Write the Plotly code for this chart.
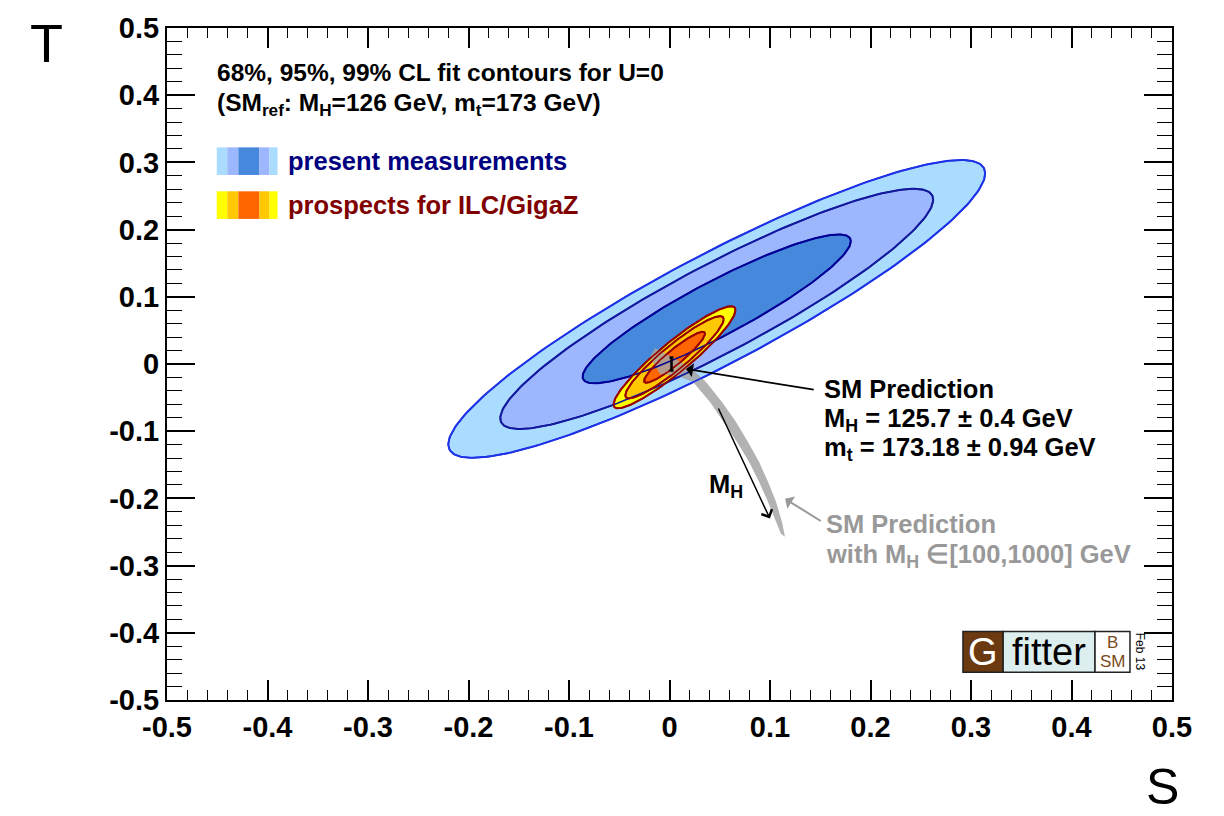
import numpy as np
import plotly.graph_objects as go

# ---------------- data ----------------
# confidence levels and corresponding delta-chi2 for 2 d.o.f.
cl_names = ["99%", "95%", "68%"]
cl_dchi2 = [9.21, 5.99, 2.30]

# present measurements fit result (S, T) for U=0
present_center = [0.047, 0.082]
present_sigma = [0.088, 0.073]
present_rho = 0.91

# prospects for ILC/GigaZ
ilc_center = [0.005, 0.010]
ilc_sigma = [0.020, 0.025]
ilc_rho = 0.925

# SM prediction point (M_H = 125.7, m_t = 173.18)
sm_S = [0.002]
sm_T = [0.000]
sm_T_err = [0.0095]

# SM prediction band for M_H in [100, 1000] GeV (outline of the grey band)
band_S = [-0.0144, 0.0025, 0.0204, 0.0363, 0.0522, 0.0662, 0.0781, 0.0891, 0.0980,
          0.1060, 0.1119, 0.1149,
          0.1109, 0.1060, 0.0980, 0.0891, 0.0791, 0.0672, 0.0542, 0.0403, 0.0234,
          0.0085, -0.0095, -0.0194]
band_T = [0.0238, 0.0104, -0.0045, -0.0267, -0.0565, -0.0862, -0.1159, -0.1456, -0.1753,
          -0.2051, -0.2348, -0.2571,
          -0.2526, -0.2348, -0.2051, -0.1753, -0.1456, -0.1159, -0.0862, -0.0565, -0.0267,
          -0.0178, -0.0149, 0.0104]

# tick labels
tick_vals = [-0.5, -0.4, -0.3, -0.2, -0.1, 0.0, 0.1, 0.2, 0.3, 0.4, 0.5]
tick_text = ["-0.5", "-0.4", "-0.3", "-0.2", "-0.1", "0", "0.1", "0.2", "0.3", "0.4", "0.5"]

# ---------------- styles ----------------
FONT = "Liberation Sans, Arial, Helvetica, sans-serif"
present_fill = ["#aadcff", "#9db7ff", "#4688dc"]
present_line = ["#1e32e6", "#14199e", "#000096"]
ilc_fill = ["#ffff00", "#ffc800", "#ff6600"]
ilc_line = ["#990000", "#990000", "#990000"]


def contour(center, sigma, rho, d2, n=240):
    t = np.linspace(0, 2 * np.pi, n)
    k = np.sqrt(d2)
    s = center[0] + k * sigma[0] * np.cos(t)
    tt = center[1] + k * sigma[1] * (rho * np.cos(t) + np.sqrt(1 - rho ** 2) * np.sin(t))
    return s, tt


fig = go.Figure()

# present measurement fills
for d2, fc, lc in zip(cl_dchi2, present_fill, present_line):
    s, t = contour(present_center, present_sigma, present_rho, d2)
    fig.add_trace(go.Scatter(x=s, y=t, mode="lines", fill="toself", fillcolor=fc,
                             line=dict(color=lc, width=2), hoverinfo="skip"))

# ILC fills
for d2, fc, lc in zip(cl_dchi2, ilc_fill, ilc_line):
    s, t = contour(ilc_center, ilc_sigma, ilc_rho, d2)
    fig.add_trace(go.Scatter(x=s, y=t, mode="lines", fill="toself", fillcolor=fc,
                             line=dict(color=lc, width=2), hoverinfo="skip"))

# grey SM band
fig.add_trace(go.Scatter(x=band_S + band_S[:1], y=band_T + band_T[:1], mode="lines",
                         fill="toself", fillcolor="rgba(165,165,165,0.85)",
                         line=dict(color="rgba(165,165,165,0.0)", width=0),
                         hoverinfo="skip"))

# present measurement lines on top
for d2, lc in zip(cl_dchi2, present_line):
    s, t = contour(present_center, present_sigma, present_rho, d2)
    fig.add_trace(go.Scatter(x=s, y=t, mode="lines", line=dict(color=lc, width=1.6),
                             hoverinfo="skip"))

# ILC lines on top
for d2, lc in zip(cl_dchi2, ilc_line):
    s, t = contour(ilc_center, ilc_sigma, ilc_rho, d2)
    fig.add_trace(go.Scatter(x=s, y=t, mode="lines", line=dict(color=lc, width=1.6),
                             hoverinfo="skip"))

# SM point
fig.add_trace(go.Scatter(x=sm_S, y=sm_T, mode="markers",
                         marker=dict(size=1, color="black"),
                         error_y=dict(type="data", array=sm_T_err, color="black",
                                      thickness=2.5, width=2),
                         hoverinfo="skip"))

ann = []


def txt(x, y, text, size=25, color="black", bold=True, xanchor="left", **kw):
    f = dict(family=FONT, size=size, color=color)
    if bold:
        f["weight"] = "bold"
    d = dict(x=x, y=y, xref="x", yref="y", text=text, showarrow=False,
             xanchor=xanchor, yanchor="middle", font=f)
    d.update(kw)
    ann.append(d)


txt(-0.452, 0.434, "68%, 95%, 99% CL fit contours for U=0", size=24.5)
txt(-0.452, 0.386, "(SM<sub>ref</sub>: M<sub>H</sub>=126 GeV, m<sub>t</sub>=173 GeV)", size=24.5)
txt(-0.382, 0.302, "present measurements", size=25.5, color="#000080")
txt(-0.382, 0.236, "prospects for ILC/GigaZ", size=25.5, color="#800000")

txt(0.152, -0.037, "SM Prediction", size=25.5)
txt(0.152, -0.083, "M<sub>H</sub> = 125.7 ± 0.4 GeV", size=25.5)
txt(0.152, -0.127, "m<sub>t</sub> = 173.18 ± 0.94 GeV", size=25.5)

txt(0.154, -0.238, "SM Prediction", size=25.5, color="#999999")
txt(0.154, -0.286, "with M<sub>H</sub> ∈[100,1000] GeV", size=25.5, color="#999999")

txt(0.056, -0.181, "M<sub>H</sub>", size=25.5, xanchor="center")

# arrows
ann.append(dict(x=0.0164, y=-0.0074, ax=0.145, ay=-0.0386, xref="x", yref="y",
                axref="x", ayref="y", text="", showarrow=True, arrowhead=1,
                arrowsize=1.3, arrowwidth=1.8, arrowcolor="black", standoff=0))
ann.append(dict(x=0.0999, y=-0.230, ax=0.048, ay=-0.064, xref="x", yref="y",
                axref="x", ayref="y", text="", showarrow=True, arrowhead=4,
                arrowsize=1.5, arrowwidth=1.5, arrowcolor="black", standoff=0))
ann.append(dict(x=0.115, y=-0.2006, ax=0.152, ay=-0.235, xref="x", yref="y",
                axref="x", ayref="y", text="", showarrow=True, arrowhead=1,
                arrowsize=1.2, arrowwidth=2, arrowcolor="#999999", standoff=0))

# axis titles
ann.append(dict(x=-0.12, y=0.978, xref="paper", yref="paper", text="T", showarrow=False,
                font=dict(family=FONT, size=54, color="black"), xanchor="center", yanchor="middle"))
ann.append(dict(x=0.991, y=-0.13, xref="paper", yref="paper", text="S", showarrow=False,
                font=dict(family=FONT, size=50, color="black"), xanchor="center", yanchor="middle"))

# Gfitter logo
txt(0.312, -0.428, "G", size=38, color="white", bold=False, xanchor="center")
txt(0.3776, -0.428, "fitter", size=38, color="black", bold=False, xanchor="center")
txt(0.441, -0.414, "B", size=17, color="#7a4a1a", bold=False, xanchor="center")
txt(0.441, -0.443, "SM", size=17, color="#7a4a1a", bold=False, xanchor="center")
ann.append(dict(x=0.469, y=-0.428, xref="x", yref="y", text="Feb 13", showarrow=False,
                textangle=90, font=dict(family=FONT, size=12, color="black"),
                xanchor="center", yanchor="middle"))

shapes = []
# legend swatches
pres_swatch = [(-0.4505, -0.440, present_fill[0]), (-0.440, -0.429, present_fill[1]),
               (-0.429, -0.408, present_fill[2]), (-0.408, -0.398, present_fill[1]),
               (-0.398, -0.390, present_fill[0])]
ilc_swatch = [(-0.4505, -0.440, ilc_fill[0]), (-0.440, -0.429, ilc_fill[1]),
              (-0.429, -0.408, ilc_fill[2]), (-0.408, -0.398, ilc_fill[1]),
              (-0.398, -0.390, ilc_fill[0])]
for x0, x1, c in pres_swatch:
    shapes.append(dict(type="rect", xref="x", yref="y", x0=x0, x1=x1, y0=0.2813, y1=0.3224,
                       fillcolor=c, line=dict(width=0)))
for x0, x1, c in ilc_swatch:
    shapes.append(dict(type="rect", xref="x", yref="y", x0=x0, x1=x1, y0=0.2159, y1=0.257,
                       fillcolor=c, line=dict(width=0)))
# logo boxes
shapes.append(dict(type="rect", xref="x", yref="y", x0=0.292, x1=0.332, y0=-0.4587, y1=-0.398,
                   fillcolor="#6b3a10", line=dict(color="#222222", width=1.5)))
shapes.append(dict(type="rect", xref="x", yref="y", x0=0.332, x1=0.4234, y0=-0.4587, y1=-0.398,
                   fillcolor="#ddeeee", line=dict(color="#222222", width=1.5)))
shapes.append(dict(type="rect", xref="x", yref="y", x0=0.4234, x1=0.4582, y0=-0.4587, y1=-0.398,
                   fillcolor="white", line=dict(color="#222222", width=1.5)))

axis_common = dict(
    range=[-0.5, 0.5], tickmode="array", tickvals=tick_vals, ticktext=tick_text,
    ticks="inside", tickwidth=1.6, tickcolor="black",
    showline=True, linewidth=2, linecolor="black", mirror="allticks",
    showgrid=False, zeroline=False,
    tickfont=dict(family=FONT, size=29, color="black", weight="bold"),
)

fig.update_layout(
    width=1224, height=816,
    margin=dict(l=167, r=52, t=24, b=116),
    plot_bgcolor="white", paper_bgcolor="white",
    showlegend=False,
    xaxis=dict(**axis_common, ticklen=20,
               minor=dict(ticks="inside", ticklen=10, tickwidth=1.4, tickcolor="black",
                          dtick=0.02, tick0=0, showgrid=False)),
    yaxis=dict(**axis_common, ticklen=28,
               minor=dict(ticks="inside", ticklen=15, tickwidth=1.4, tickcolor="black",
                          dtick=0.02, tick0=0, showgrid=False)),
    annotations=ann,
    shapes=shapes,
)

fig.write_html("out.html", config={"displayModeBar": False},
               post_script="document.body.style.margin='0';document.body.style.overflow='hidden';")
